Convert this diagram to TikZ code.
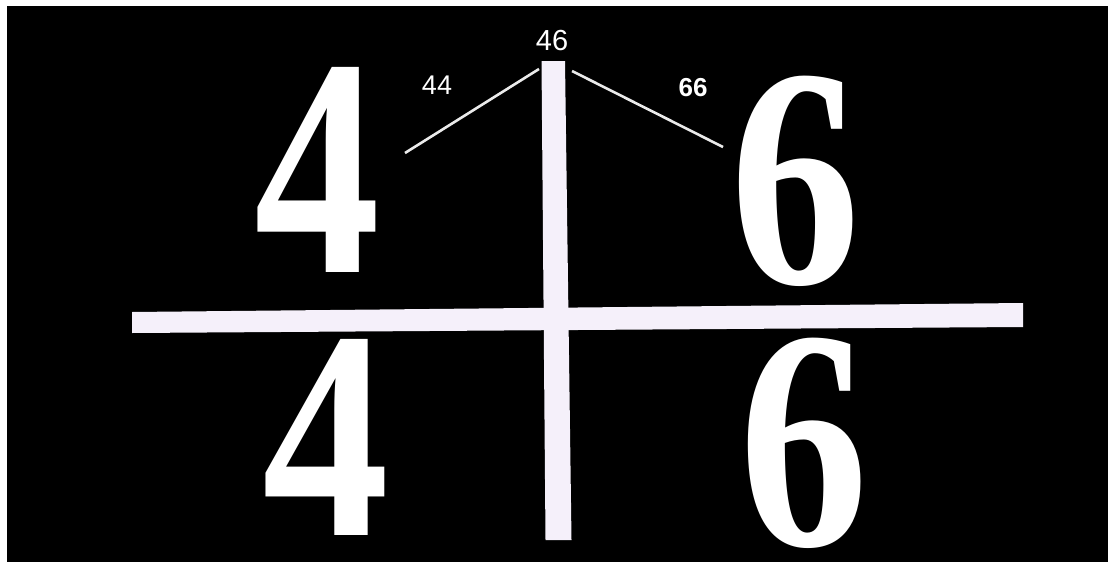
\documentclass[tikz,border=0pt]{standalone}
\usepackage{fontspec}
\setmainfont{Liberation Serif}
\newfontfamily\arialfont{Liberation Sans}
\usepackage{graphicx}
\definecolor{barcol}{HTML}{F5F0FA}
\begin{document}
\begin{tikzpicture}[x=1pt,y=-1pt,
  digit/.style={inner sep=0pt,outer sep=0pt,text=white,anchor=center},
  smalllabel/.style={inner sep=0pt,text=white,font=\arialfont\fontsize{27}{27}\selectfont},
  bar/.style={fill=barcol,draw=none},
  leg/.style={draw=white!92!black,line width=2.6pt}]
\useasboundingbox (0,0) rectangle (1108,562);
\fill[white] (0,0) rectangle (1108,562);
\fill[black] (7,6) rectangle (1108,562);
% bars
\fill[bar] (541.5,61) -- (565,61) -- (571.5,540) -- (545.5,540) -- cycle;
\fill[bar] (132,312) -- (1023,303) -- (1023,327) -- (132,333) -- cycle;
% digits
\node[digit] (t4) at (317.5,170) {\resizebox*{126pt}{205pt}{\bfseries 4}};
\node[digit] (t6) at (795,181) {\resizebox*{130pt}{210pt}{\bfseries 6}};
\node[digit] (b4) at (326,437) {\resizebox*{127pt}{196pt}{\bfseries 4}};
\node[digit] (b6) at (803.5,443) {\resizebox*{129pt}{210pt}{\bfseries 6}};
% labels
\node[smalllabel,font=\arialfont\fontsize{29}{29}\selectfont] (l46) at (552,41) {46};
\node[smalllabel] (l44) at (437,85) {44};
\node[smalllabel,font=\arialfont\bfseries\fontsize{26}{26}\selectfont] (l66) at (693,88) {66};
% legs
\coordinate (a1) at (405,153);
\coordinate (a2) at (539,69);
\coordinate (c1) at (572,71);
\coordinate (c2) at (723,147);
\draw[leg] (a1) -- (a2);
\draw[leg] (c1) -- (c2);
\end{tikzpicture}
\end{document}
